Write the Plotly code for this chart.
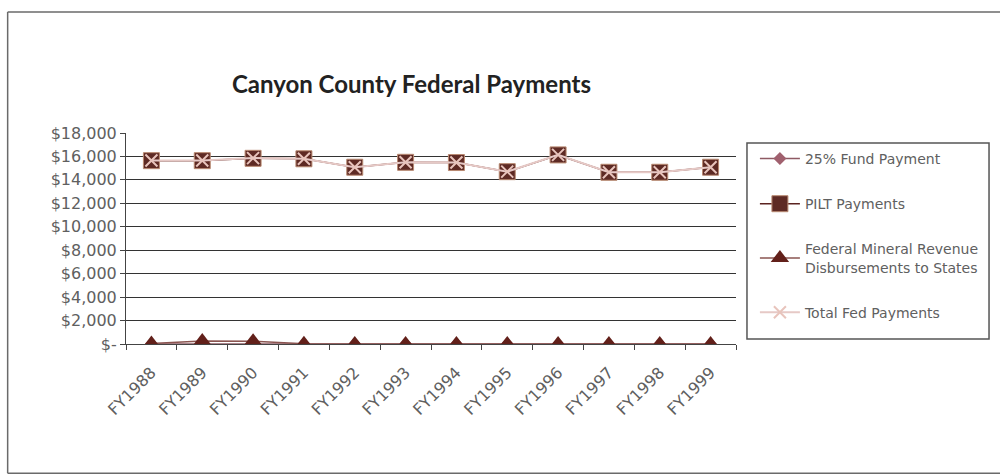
import plotly.graph_objects as go

# Fiscal years on the category axis
years = ["FY1988", "FY1989", "FY1990", "FY1991", "FY1992", "FY1993",
         "FY1994", "FY1995", "FY1996", "FY1997", "FY1998", "FY1999"]

# Payment series (dollars)
fund_25pct = [0, 0, 0, 0, 0, 0, 0, 0, 0, 0, 0, 0]
pilt = [15640, 15640, 15840, 15800, 15080, 15500, 15480, 14700, 16130, 14650, 14650, 15080]
mineral = [40, 250, 240, 20, 10, 8, 6, 5, 4, 3, 3, 2]
total_fed = [15650, 15660, 15860, 15805, 15085, 15505, 15485, 14705, 16135, 14655, 14655, 15085]

y_ticks = [0, 2000, 4000, 6000, 8000, 10000, 12000, 14000, 16000, 18000]
y_tick_text = ["$-", "$2,000", "$4,000", "$6,000", "$8,000", "$10,000",
               "$12,000", "$14,000", "$16,000", "$18,000"]

TEXT_FONT = "'DejaVu Sans', sans-serif"
TITLE_FONT = "Lato, 'Open Sans', sans-serif"
GREY = "#606060"

fig = go.Figure()

fig.add_trace(go.Scatter(
    x=years, y=fund_25pct, name="25% Fund Payment", mode="lines+markers",
    line=dict(color="#8e5a63", width=1.5),
    marker=dict(symbol="diamond", size=10, color="#a0606e"),
    legendgroup="a"))

fig.add_trace(go.Scatter(
    x=years, y=pilt, name="PILT Payments", mode="lines+markers",
    line=dict(color="#5b2320", width=1.5),
    marker=dict(symbol="square", size=16, color="#5e2a24",
                line=dict(color="#b98a72", width=1)),
    legendgroup="b"))

fig.add_trace(go.Scatter(
    x=years, y=mineral,
    name="Federal Mineral Revenue<br>Disbursements to States",
    mode="lines+markers",
    line=dict(color="#8a5450", width=1.5),
    marker=dict(symbol="triangle-up", size=16, color="#62201a"),
    legendgroup="c"))

fig.add_trace(go.Scatter(
    x=years, y=total_fed, name="Total Fed Payments", mode="lines+markers",
    line=dict(color="#e6c9c6", width=2),
    marker=dict(symbol="x-thin", size=12, color="#e8c4bc",
                line=dict(color="#e8c4bc", width=2)),
    legendgroup="d"))

# Outer chart frame and the box around the legend
frame = dict(type="line", xref="paper", yref="paper",
             line=dict(color="#6a6a6a", width=1.5))
shapes = [
    dict(frame, x0=-0.194, x1=1.5, y0=1.573, y1=1.573),
    dict(frame, x0=-0.194, x1=-0.194, y0=1.573, y1=-0.613),
    dict(frame, x0=-0.194, x1=1.5, y0=-0.613, y1=-0.613),
    dict(type="rect", xref="paper", yref="paper",
         x0=1.018, x1=1.4148, y0=0.0237, y1=0.9526,
         line=dict(color="#555555", width=1.5)),
]

fig.update_layout(
    width=1000, height=475,
    margin=dict(l=126, r=264, t=133, b=131),
    paper_bgcolor="white", plot_bgcolor="white",
    font=dict(family=TEXT_FONT, size=14, color=GREY),
    title=dict(text="<b>Canyon County Federal Payments</b>",
               x=0.468, xref="paper", xanchor="center",
               y=0.822, yref="container", yanchor="middle",
               font=dict(family=TITLE_FONT, size=24, color="#222222")),
    showlegend=True,
    legend=dict(x=1.031, y=0.953, xanchor="left", yanchor="top",
                bgcolor="rgba(0,0,0,0)", borderwidth=0,
                font=dict(family=TEXT_FONT, size=14, color=GREY),
                tracegroupgap=24, itemwidth=40),
    shapes=shapes,
)

fig.update_xaxes(
    type="category", range=[-0.5, 11.5], showgrid=False,
    showline=True, linecolor="#444444", linewidth=1,
    ticks="outside", ticklen=5, tickcolor="#444444",
    tickson="boundaries", tickangle=-45, ticklabelstandoff=12,
    tickfont=dict(family=TEXT_FONT, size=16, color=GREY),
)

fig.update_yaxes(
    range=[0, 18000], tickvals=y_ticks, ticktext=y_tick_text,
    showgrid=True, gridcolor="#333333", gridwidth=1,
    showline=True, linecolor="#444444", linewidth=1,
    ticks="outside", ticklen=5, tickcolor="#444444",
    zeroline=False,
    tickfont=dict(family=TEXT_FONT, size=16, color=GREY),
)

fig.write_html("out.html")
